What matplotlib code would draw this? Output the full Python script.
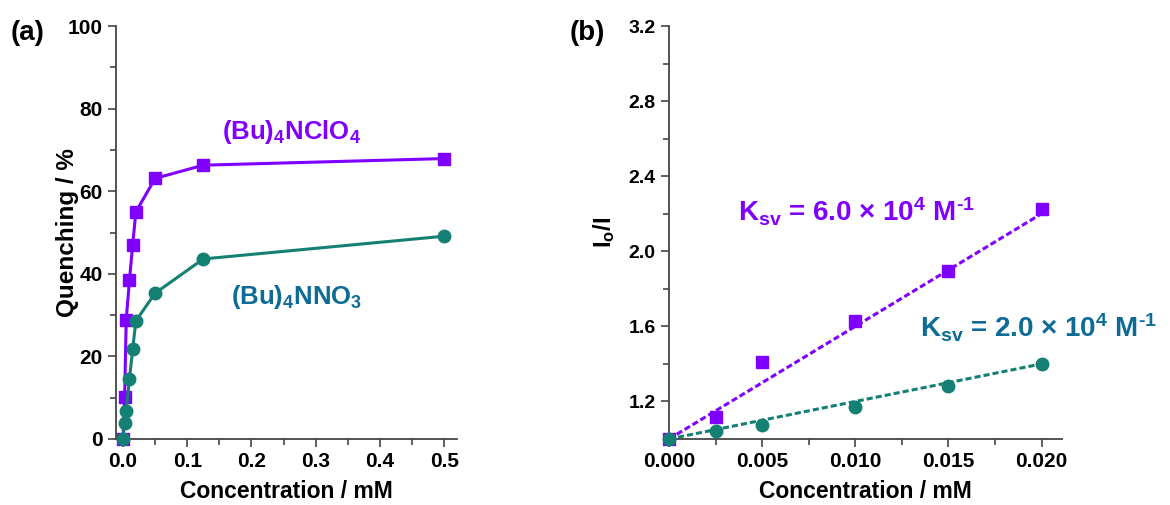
import numpy as np
import matplotlib
matplotlib.use('Agg')
from matplotlib import pyplot as plt
from matplotlib.ticker import MultipleLocator, FormatStrFormatter

plt.rcParams['font.family'] = 'Liberation Sans'
plt.rcParams['font.weight'] = 'bold'
plt.rcParams['axes.labelweight'] = 'bold'
plt.rcParams['mathtext.fontset'] = 'custom'
plt.rcParams['mathtext.rm'] = 'Liberation Sans:bold'
plt.rcParams['mathtext.it'] = 'Liberation Sans:bold'
plt.rcParams['mathtext.bf'] = 'Liberation Sans:bold'
plt.rcParams['axes.unicode_minus'] = False

# datos panel (a): quenching vs concentracion
conc_a = [0.0, 0.0025, 0.005, 0.01, 0.015, 0.02, 0.05, 0.125, 0.5]
quench_clo4 = [0.0, 10.1, 28.9, 38.4, 47.0, 55.0, 63.1, 66.3, 67.9]
quench_no3 = [0.0, 3.9, 6.8, 14.5, 21.7, 28.6, 35.3, 43.6, 49.1]

# datos panel (b): Stern-Volmer
conc_b = [0.0, 0.0025, 0.005, 0.01, 0.015, 0.02]
io_i_clo4 = [1.0, 1.115, 1.408, 1.627, 1.893, 2.226]
io_i_no3 = [1.0, 1.045, 1.077, 1.173, 1.28, 1.402]
ksv_clo4 = 60.0   # mM^-1  (6.0 x 10^4 M^-1)
ksv_no3 = 20.0    # mM^-1  (2.0 x 10^4 M^-1)

morado = '#8000ff'
verde = '#138073'
azul = '#0e6b96'

fig = plt.figure(figsize=(11.7, 5.05), dpi=100)

def estilo(ax):
    for lado in ['top', 'right']:
        ax.spines[lado].set_visible(False)
    for lado in ['left', 'bottom']:
        ax.spines[lado].set_color('#444444')
        ax.spines[lado].set_linewidth(1.3)
    ax.tick_params(which='major', direction='out', length=6, width=1.2, color='#444444')
    ax.tick_params(which='minor', direction='out', length=4, width=1.2, color='#444444')

# ---- panel (a)
ax1 = fig.add_axes([0.0991, 0.1307, 0.2915, 0.8178])
estilo(ax1)
ax1.plot(conc_a, quench_clo4, color=morado, lw=2.2, marker='s', ms=8.5, zorder=2)
ax1.plot(conc_a, quench_no3, color=verde, lw=2.2, marker='o', ms=9, zorder=3)
ax1.set_xlim(-0.011, 0.52)
ax1.set_ylim(0, 100)
ax1.xaxis.set_minor_locator(MultipleLocator(0.05))
ax1.yaxis.set_major_locator(MultipleLocator(20))
ax1.yaxis.set_minor_locator(MultipleLocator(10))
ax1.set_xticks([0, 0.1, 0.2, 0.3, 0.4, 0.5])
ax1.set_xticklabels(['0.0', '0.1', '0.2', '0.3', '0.4', '0.5'])
ax1.tick_params(labelsize=15)
for l in ax1.lines:
    l.set_clip_on(False)
ax1.set_xlabel('Concentration / mM', fontsize=16.5, labelpad=6)
ax1.set_ylabel('Quenching / %', fontsize=17.5, labelpad=-8)
ax1.text(0.263, 74.3, r'$\mathregular{(Bu)_4NClO_4}$', color=morado, fontsize=18.5, ha='center', va='center')
ax1.text(0.27, 34.4, r'$\mathregular{(Bu)_4NNO_3}$', color=azul, fontsize=18.5, ha='center', va='center')
fig.text(0.009, 0.935, '(a)', fontsize=20, ha='left', va='center')

# ---- panel (b)
ax2 = fig.add_axes([0.5718, 0.1307, 0.3359, 0.8178])
estilo(ax2)
xs = np.linspace(0, 0.02, 50)
ax2.plot(xs, 1 + ksv_clo4 * xs, color=morado, lw=2.2, ls=(0, (2, 1)), zorder=2)
ax2.plot(xs, 1 + ksv_no3 * xs, color=verde, lw=2.2, ls=(0, (2, 1)), zorder=2)
ax2.plot(conc_b, io_i_clo4, ls='none', color=morado, marker='s', ms=8.5, zorder=3)
ax2.plot(conc_b, io_i_no3, ls='none', color=verde, marker='o', ms=9, zorder=3)
ax2.set_xlim(0, 0.0211)
ax2.set_ylim(1.0, 3.2)
ax2.xaxis.set_major_locator(MultipleLocator(0.005))
ax2.xaxis.set_minor_locator(MultipleLocator(0.0025))
ax2.set_yticks([1.2, 1.6, 2.0, 2.4, 2.8, 3.2])
ax2.yaxis.set_minor_locator(MultipleLocator(0.2))
ax2.xaxis.set_major_formatter(FormatStrFormatter('%.3f'))
ax2.yaxis.set_major_formatter(FormatStrFormatter('%.1f'))
ax2.tick_params(axis='x', labelsize=15)
ax2.tick_params(axis='y', labelsize=14)
for l in ax2.lines:
    l.set_clip_on(False)
ax2.set_xlabel('Concentration / mM', fontsize=16.5, labelpad=6)
ax2.set_ylabel(r'$\mathregular{I_o/I}$', fontsize=17, labelpad=8)
ax2.text(0.0037, 2.21, r'K$_{\mathregular{sv}}$ = 6.0 × 10$^{\mathregular{4}}$ M$^{\text{-1}}$',
         color=morado, fontsize=20, ha='left', va='center')
ax2.text(0.0135, 1.593, r'K$_{\mathregular{sv}}$ = 2.0 × 10$^{\mathregular{4}}$ M$^{\text{-1}}$',
         color=azul, fontsize=20, ha='left', va='center')
fig.text(0.487, 0.935, '(b)', fontsize=20, ha='left', va='center')

fig.savefig('out.png', dpi=100)
